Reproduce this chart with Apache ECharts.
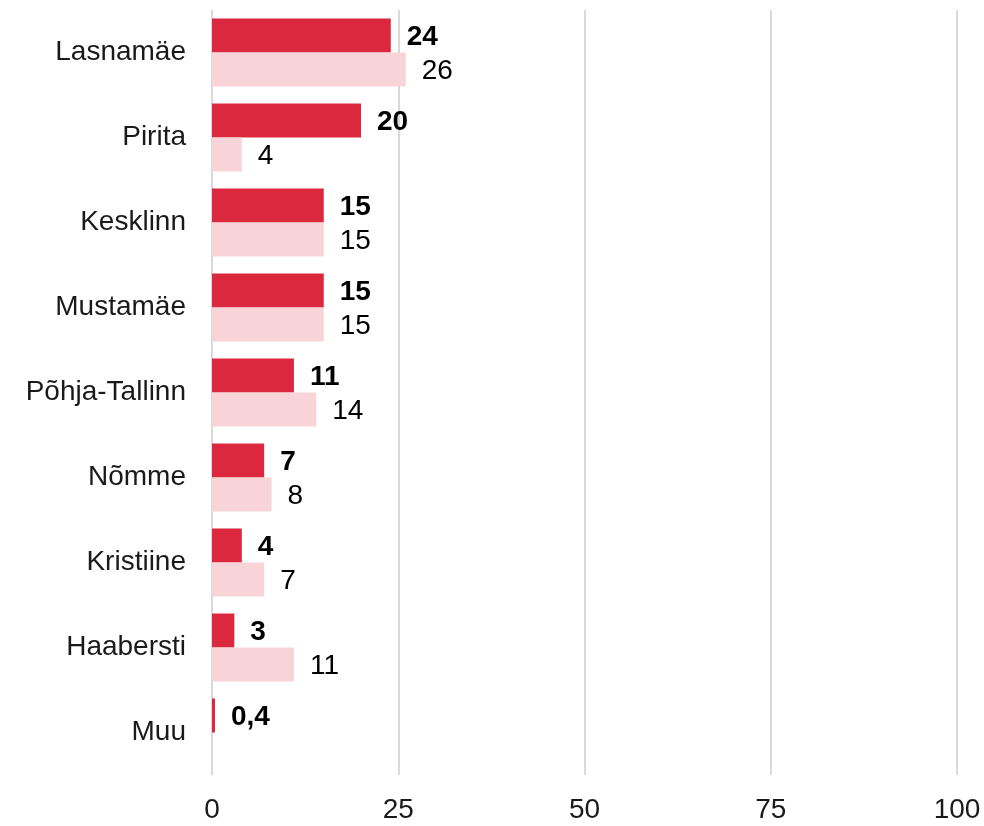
<!DOCTYPE html>
<html>
<head>
<meta charset="utf-8">
<script src="https://cdn.jsdelivr.net/npm/echarts@6/dist/echarts.min.js"></script>
<style>
html,body{margin:0;padding:0;background:#fff;}
#main{width:984px;height:826px;}
</style>
</head>
<body>
<div id="main"></div>
<script>
var categories=["Lasnamäe","Pirita","Kesklinn","Mustamäe","Põhja-Tallinn","Nõmme","Kristiine","Haabersti","Muu"];
var seriesA=[24,20,15,15,11,7,4,3,0.4];
var seriesB=[26,4,15,15,14,8,7,11,null];
var xTicks=[0,25,50,75,100];

var myChart=echarts.init(document.getElementById('main'));
var fmt=function(p){return String(p.value).replace('.',',');};
var option={
	animation:false,
	grid:{left:212,right:27,top:10,bottom:51},
	xAxis:{
		type:'value',min:xTicks[0],max:xTicks[xTicks.length-1],interval:25,
		axisLine:{show:false},axisTick:{show:false},
		splitLine:{lineStyle:{color:'#d9d9d9',width:2}},
		axisLabel:{fontFamily:'Liberation Sans',fontSize:28,color:'#1a1a1a',margin:21}
	},
	yAxis:{
		type:'category',data:categories,inverse:true,
		axisLine:{show:false},axisTick:{show:false},
		axisLabel:{fontFamily:'Liberation Sans',fontSize:28,color:'#1a1a1a',margin:26}
	},
	series:[{
		name:'A',type:'bar',data:seriesA,barGap:'0%',barCategoryGap:'20%',
		itemStyle:{color:'#dc283e'},
		label:{show:true,position:'right',distance:16,formatter:fmt,offset:[0,2],
			fontFamily:'Liberation Sans',fontSize:28,fontWeight:'bold',color:'#000'}
	},{
		name:'B',type:'bar',data:seriesB,
		itemStyle:{color:'#f8d3d8'},
		label:{show:true,position:'right',distance:16,formatter:fmt,offset:[0,2],
			fontFamily:'Liberation Sans',fontSize:28,color:'#000'}
	}]
};
myChart.setOption(option);
</script>
</body>
</html>
